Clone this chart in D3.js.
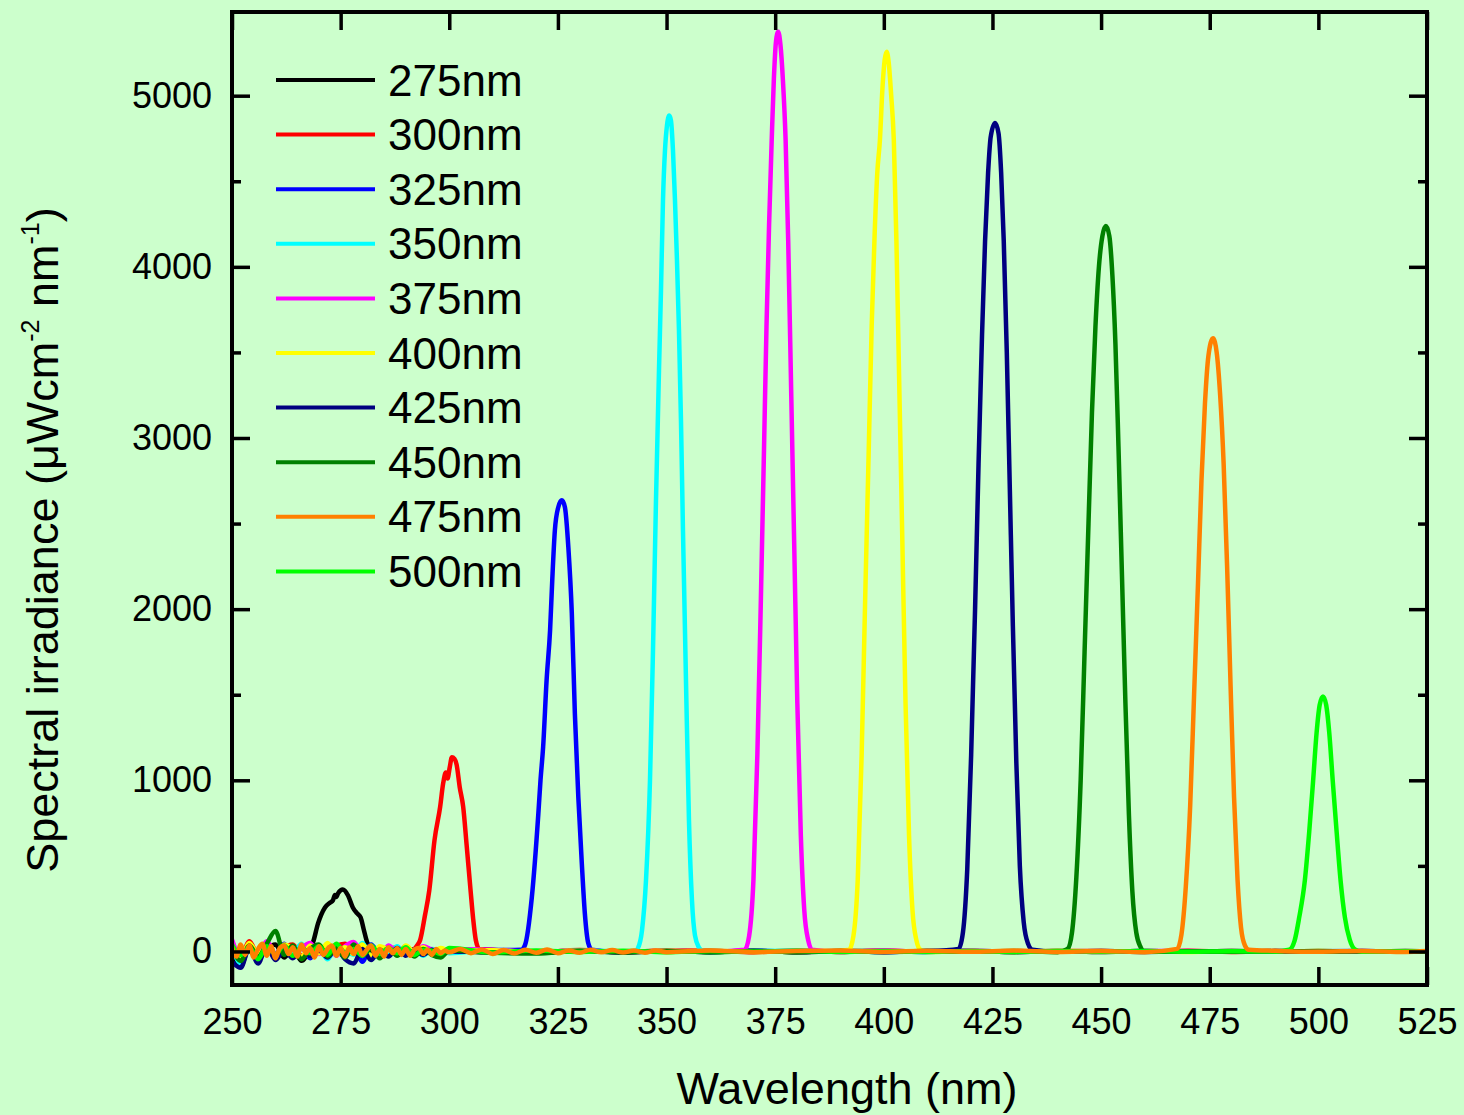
<!DOCTYPE html>
<html>
<head>
<meta charset="utf-8">
<script src="https://cdn.jsdelivr.net/npm/d3@7"></script>
<style>
  body { margin: 0; background: #ccffcc; }
  svg { display: block; }
  text { font-family: "Liberation Sans", Arial, sans-serif; fill: #000; }
</style>
</head>
<body>
<script>
// ---- data ----
const seriesNames = ["275nm", "300nm", "325nm", "350nm", "375nm", "400nm", "425nm", "450nm", "475nm", "500nm"];
const seriesColors = ["#000000", "#ff0000", "#0000ff", "#00ffff", "#ff00ff", "#ffff00", "#000080", "#008000", "#ff8000", "#00ff00"];

const xTicks = [250, 275, 300, 325, 350, 375, 400, 425, 450, 475, 500, 525];
const yTicks = [0, 1000, 2000, 3000, 4000, 5000];
const yMinor = [500, 1500, 2500, 3500, 4500];

// wavelengths of the baseline (noise) samples
const noiseNm = [250, 252, 254, 256, 258, 260, 262, 264, 266, 268, 270, 272, 274, 276, 278, 280, 282, 284, 286, 288, 290, 292, 294, 296, 298, 300,
  310, 320, 330, 340, 350, 360, 370, 380, 390, 400, 410, 420, 430, 440, 450, 460, 470, 480, 490, 500, 510, 520, 525];
// the orange trace lies on top of everything, so its baseline is sampled finer
const noiseNmFine = [250, 251, 252, 253, 254, 255, 256, 257, 258, 259, 260, 261, 262, 263, 264, 265, 266, 267, 268, 269,
  270, 271, 272, 273, 274, 275, 276, 277, 278, 279, 280, 281, 282, 283, 284, 285, 286, 287, 288, 289,
  290, 291, 292, 293, 294, 295, 296, 297, 298, 299, 300,
  302.5, 305, 307.5, 310, 312.5, 315, 317.5, 320, 322.5, 325, 327.5, 330, 332.5, 335, 337.5, 340, 342.5, 345, 347.5, 350,
  360, 370, 380, 390, 400, 410, 420, 430, 440, 450, 460, 470, 480, 490, 500, 510, 520, 525];

const noise275 = [-30, -85, 25, -45, 15, 40, -35, 20, -55, 30, 10, -25, 35, -10, 20, 45, -5, 10, -20, 25, -10, 15, 5, -10, 10, 0,
  6, -4, 5, -3, 4, -3, 4, -4, 3, 2, -3, 4, -2, 3, -3, 2, -2, 3, -2, 2, -1, 2, 0];
const noise300 = [45, -35, 60, -20, 35, -45, 20, 40, -25, 10, 35, -15, 30, 45, -10, 15, 30, -20, 10, 25, -5, 20, -10, 15, 25, 5,
  10, -5, 8, -6, 5, 4, -4, 6, -3, 5, -2, 3, -4, 2, 3, -2, 4, -3, 2, -1, 3, -2, 1];
const noise325 = [60, -50, 30, -55, 40, -20, 45, -30, 25, -40, 35, -20, 15, -35, 30, -60, 40, -15, 25, -10, 30, -5, 15, -10, 5, 10,
  8, -4, 6, -5, 4, -3, 5, -2, 3, -4, 2, 3, -3, 2, -2, 3, -1, 2, -2, 1, 2, -1, 0];
const noise350 = [30, -70, 20, -40, 55, -25, 30, -10, 45, -30, 15, -45, 25, 10, -20, 50, -30, 20, -15, 30, -20, 10, -25, 15, 5, -10,
  5, -6, 7, -3, 4, -5, 3, 4, -2, 3, -3, 2, -2, 3, -1, 2, -2, 1, 2, -1, 1, -1, 0];
const noise375 = [70, -30, 45, -20, 60, -10, 30, -35, 20, 50, -15, 40, -25, 30, 55, -10, 20, -30, 35, -5, 25, -15, 30, 10, -5, 15,
  9, -3, 6, -4, 5, -2, 4, 3, -3, 5, -2, 4, -2, 3, -2, 2, 3, -1, 2, -2, 1, 1, 0];
const noise400 = [35, -40, 50, -15, 25, -35, 40, 15, -30, 35, -10, 50, -20, 25, -15, 40, -25, 30, 10, -20, 35, -5, 25, -10, 20, 5,
  7, -5, 5, -4, 6, -3, 3, -4, 4, 2, -3, 3, -2, 4, -2, 2, -3, 2, -1, 2, -1, 1, 0];
const noise425 = [-60, -95, 20, -70, 30, -50, 10, -40, 25, -30, 5, -35, 20, -45, -70, 15, -50, 10, -30, 20, -25, 5, -20, 10, -15, 0,
  -5, -8, 3, -6, 2, -4, 3, -5, 1, -3, 2, -4, 1, -2, 2, -3, 1, -2, 1, -1, 0, -1, 0];
const noise450 = [20, -55, 35, -30, 45, 120, -20, 35, -45, 15, 40, -30, 25, -35, 40, -20, 15, -40, 20, -25, 10, -30, 15, -20, -35, 5,
  -8, -12, 4, -6, 3, -5, 2, -4, 3, -3, 2, -2, 3, -4, 2, -2, 1, -2, 2, -1, 1, -1, 0];
const noise475 = [25, -30, 40, -20, 35, -35, 15, 45, -25, 30, -40, 20, 35, -15, 25, -30, 40, -10, 20, -35,
  30, -20, 15, 35, -25, 20, -30, 25, -15, 30, -20, 10, 35, -25, 15, -30, 25, -10, 20, -20,
  15, -25, 10, 20, -15, 10, -20, 15, -10, 5, -5,
  15, -10, 12, -15, 8, -12, 10, -8, 12, -10, 6, -8, 10, -5, 8, -6, 5, -7, 6, -4,
  5, -4, 3, 5, -3, 4, -2, 5, -3, 2, -4, 3, -2, 4, -2, 3, -3, 2];
const noise500 = [40, -20, 25, -45, 30, -15, 35, -25, 20, -10, 30, -20, 45, -5, 15, -25, 35, -15, 20, -10, 25, -20, 10, 5, -15, 20,
  -6, 5, -3, 4, -5, 3, -2, 4, -3, 2, -2, 3, -4, 2, -1, 3, -2, 1, -1, 2, -1, 1, 0];

// peak profiles [wavelength nm, irradiance]
const peak275 = [[268.0, 20], [268.6, 50], [269.8, 164], [271.4, 257], [272.6, 286], [273.2, 298], [273.7, 330], [274.0, 318],
  [274.4, 339], [275.5, 362], [276.7, 327], [277.8, 257], [278.8, 222], [279.6, 199], [280.3, 130], [281.1, 53], [281.8, 15]];
const peak300 = [[292.0, 15], [292.6, 35], [293.3, 67], [294.4, 210], [295.4, 357], [296.6, 650], [297.9, 845], [298.6, 983],
  [299.2, 1045], [299.6, 1010], [300.1, 1075], [300.6, 1134], [301.2, 1125], [301.7, 1090], [302.4, 960], [303.2, 845],
  [304.0, 620], [304.9, 357], [305.5, 190], [306.1, 67], [306.9, 15]];
const peak325 = [[316.6, 10], [317.4, 35], [319.0, 317], [320.5, 806], [321.0, 1002], [321.6, 1195], [322.4, 1586], [323.2, 1878],
  [323.7, 2170], [324.3, 2460], [325.1, 2597], [325.9, 2636], [326.6, 2597], [327.4, 2363], [328.2, 1975], [328.9, 1391],
  [329.7, 900], [330.5, 514], [331.2, 222], [332.0, 47], [332.8, 10]];
const peak350 = [[343.0, 5], [343.4, 18], [344.35, 123], [345.27, 415], [346.19, 1000], [346.88, 1759], [347.57, 2636],
  [348.26, 3395], [348.72, 3862], [349.18, 4388], [349.64, 4680], [350.10, 4826], [350.63, 4884], [351.02, 4855],
  [351.48, 4680], [351.94, 4388], [352.40, 4037], [352.86, 3628], [353.32, 3102], [353.78, 2460], [354.47, 1584],
  [355.16, 766], [355.85, 298], [356.54, 94], [357.46, 23], [358.2, 5]];
const peak375 = [[368.0, 10], [369.0, 90], [370.0, 420], [370.9, 1150], [371.7, 2050], [372.4, 2900], [373.0, 3650], [373.6, 4250],
  [374.2, 4741], [374.7, 5100], [375.2, 5320], [375.7, 5374], [376.2, 5300], [376.8, 5080], [377.4, 4741], [378.0, 4150],
  [378.7, 3250], [379.4, 2350], [380.1, 1450], [380.9, 680], [381.7, 240], [382.6, 65], [383.5, 10]];
const peak400 = [[392.0, 10], [393.0, 90], [394.0, 420], [394.9, 1150], [395.7, 2050], [396.5, 2900], [397.2, 3650], [397.9, 4200],
  [398.5, 4550], [399.1, 4741], [399.7, 5050], [400.2, 5210], [400.66, 5257], [401.1, 5200], [401.7, 5000], [402.3, 4741],
  [402.9, 4150], [403.6, 3250], [404.3, 2350], [405.0, 1450], [405.8, 680], [406.6, 240], [407.5, 65], [408.4, 10]];
const peak425 = [[417.2, 15], [418.2, 110], [419.2, 480], [420.1, 1150], [421.0, 2000], [421.8, 2850], [422.6, 3600], [423.3, 4150],
  [424.0, 4550], [424.6, 4760], [425.6, 4841], [426.4, 4780], [427.0, 4550], [427.6, 4150], [428.3, 3500], [429.0, 2700],
  [429.7, 1900], [430.5, 1100], [431.3, 500], [432.2, 170], [433.2, 45], [434.2, 10]];
const peak450 = [[442.3, 15], [443.3, 110], [444.3, 430], [445.3, 1000], [446.2, 1750], [447.1, 2500], [447.9, 3150], [448.7, 3650],
  [449.5, 4000], [450.3, 4180], [451.1, 4238], [451.9, 4180], [452.6, 3950], [453.3, 3550], [454.0, 2950], [454.8, 2200],
  [455.6, 1450], [456.4, 800], [457.2, 350], [458.1, 110], [459.1, 25]];
const peak475 = [[467.5, 15], [468.5, 100], [469.5, 380], [470.5, 850], [471.4, 1500], [472.3, 2150], [473.1, 2750], [473.9, 3200],
  [474.7, 3480], [475.75, 3583], [476.6, 3500], [477.4, 3250], [478.2, 2850], [479.0, 2250], [479.8, 1550], [480.6, 900],
  [481.4, 420], [482.2, 140], [483.1, 35], [484.0, 10]];
const peak500 = [[493.3, 10], [494.5, 60], [495.6, 200], [496.9, 418], [497.9, 700], [498.8, 1000], [499.6, 1280], [500.3, 1440],
  [501.06, 1490], [501.8, 1440], [502.5, 1280], [503.3, 1000], [504.2, 700], [505.1, 418], [506.1, 200], [507.2, 70], [508.4, 12]];

const noises = [noise275, noise300, noise325, noise350, noise375, noise400, noise425, noise450, noise475, noise500];
const noiseGrids = [noiseNm, noiseNm, noiseNm, noiseNm, noiseNm, noiseNm, noiseNm, noiseNm, noiseNmFine, noiseNm];
const peaks = [peak275, peak300, peak325, peak350, peak375, peak400, peak425, peak450, peak475, peak500];

// ---- layout ----
const W = 1464, H = 1115;
const plotLeft = 232, plotRight = 1427, plotTop = 12, plotBottom = 985;

const svg = d3.select("body").append("svg")
  .attr("width", W)
  .attr("height", H);

svg.append("rect").attr("width", W).attr("height", H).attr("fill", "#ccffcc");

const x = d3.scaleLinear().domain([250, 525]).range([plotLeft, plotRight]);
const y = d3.scaleLinear().domain([-196, 5489]).range([plotBottom, plotTop]);

// baseline noise outside the peak, peak profile inside it
function buildSeries(grid, noise, peak) {
  const lo = peak[0][0], hi = peak[peak.length - 1][0];
  const base = grid.map((nm, i) => [nm, noise[i]]).filter(p => p[0] < lo || p[0] > hi);
  return base.concat(peak).sort((a, b) => a[0] - b[0]);
}

const series = seriesNames.map((name, i) => ({
  name: name,
  color: seriesColors[i],
  values: buildSeries(noiseGrids[i], noises[i], peaks[i])
}));

svg.append("clipPath").attr("id", "plot-clip")
  .append("rect")
  .attr("x", plotLeft).attr("y", plotTop)
  .attr("width", plotRight - plotLeft).attr("height", plotBottom - plotTop);

const line = d3.line()
  .x(d => x(d[0]))
  .y(d => y(d[1]))
  .curve(d3.curveMonotoneX);

// orange is drawn last, it sits on top of the baseline
const drawOrder = [0, 1, 2, 3, 4, 5, 6, 7, 9, 8];
svg.append("g")
  .attr("clip-path", "url(#plot-clip)")
  .selectAll("path")
  .data(drawOrder.map(i => series[i]))
  .enter()
  .append("path")
  .attr("d", d => line(d.values))
  .attr("fill", "none")
  .attr("stroke", d => d.color)
  .attr("stroke-width", 4.5)
  .attr("stroke-linejoin", "round");

// ---- axes (ticks point inward on all four sides) ----
function styleAxis(g) {
  g.select(".domain").remove();
  g.attr("font-family", null).attr("font-size", null);
  g.selectAll("line").attr("stroke", "#000").attr("stroke-width", 3.5);
  g.selectAll("text").attr("font-size", 36).attr("fill", "#000");
}

svg.append("g")
  .attr("transform", "translate(0," + plotBottom + ")")
  .call(d3.axisBottom(x).tickValues(xTicks).tickSize(-18).tickSizeOuter(0).tickPadding(23).tickFormat(d3.format("d")))
  .call(styleAxis);

svg.append("g")
  .attr("transform", "translate(0," + plotTop + ")")
  .call(d3.axisTop(x).tickValues(xTicks).tickSize(-18).tickSizeOuter(0).tickFormat(""))
  .call(styleAxis);

svg.append("g")
  .attr("transform", "translate(" + plotLeft + ",0)")
  .call(d3.axisLeft(y).tickValues(yTicks).tickSize(-18).tickSizeOuter(0).tickPadding(20).tickFormat(d3.format("d")))
  .call(styleAxis);

svg.append("g")
  .attr("transform", "translate(" + plotLeft + ",0)")
  .call(d3.axisLeft(y).tickValues(yMinor).tickSize(-9).tickSizeOuter(0).tickFormat(""))
  .call(styleAxis);

svg.append("g")
  .attr("transform", "translate(" + plotRight + ",0)")
  .call(d3.axisRight(y).tickValues(yTicks).tickSize(-18).tickSizeOuter(0).tickFormat(""))
  .call(styleAxis);

svg.append("g")
  .attr("transform", "translate(" + plotRight + ",0)")
  .call(d3.axisRight(y).tickValues(yMinor).tickSize(-9).tickSizeOuter(0).tickFormat(""))
  .call(styleAxis);

// frame
svg.append("rect")
  .attr("x", plotLeft).attr("y", plotTop)
  .attr("width", plotRight - plotLeft).attr("height", plotBottom - plotTop)
  .attr("fill", "none")
  .attr("stroke", "#000")
  .attr("stroke-width", 4);

// ---- axis titles ----
svg.append("text")
  .attr("x", 847)
  .attr("y", 1104)
  .attr("text-anchor", "middle")
  .attr("font-size", 45)
  .text("Wavelength (nm)");

const yTitle = svg.append("text")
  .attr("transform", "translate(58,540) rotate(-90)")
  .attr("text-anchor", "middle")
  .attr("font-size", 45);
yTitle.append("tspan").text("Spectral irradiance (\u03bcWcm");
yTitle.append("tspan").attr("dy", -19).attr("font-size", 25).text("-2");
yTitle.append("tspan").attr("dy", 19).text(" nm");
yTitle.append("tspan").attr("dy", -19).attr("font-size", 25).text("-1");
yTitle.append("tspan").attr("dy", 19).text(")");

// ---- legend ----
const legend = svg.append("g");
const legendItems = legend.selectAll("g")
  .data(series)
  .enter()
  .append("g")
  .attr("transform", (d, i) => "translate(0," + (80 + i * 54.6) + ")");

legendItems.append("line")
  .attr("x1", 276).attr("x2", 375)
  .attr("y1", 0).attr("y2", 0)
  .attr("stroke", d => d.color)
  .attr("stroke-width", 4);

legendItems.append("text")
  .attr("x", 388)
  .attr("y", 15.5)
  .attr("font-size", 44)
  .text(d => d.name);
</script>
</body>
</html>
